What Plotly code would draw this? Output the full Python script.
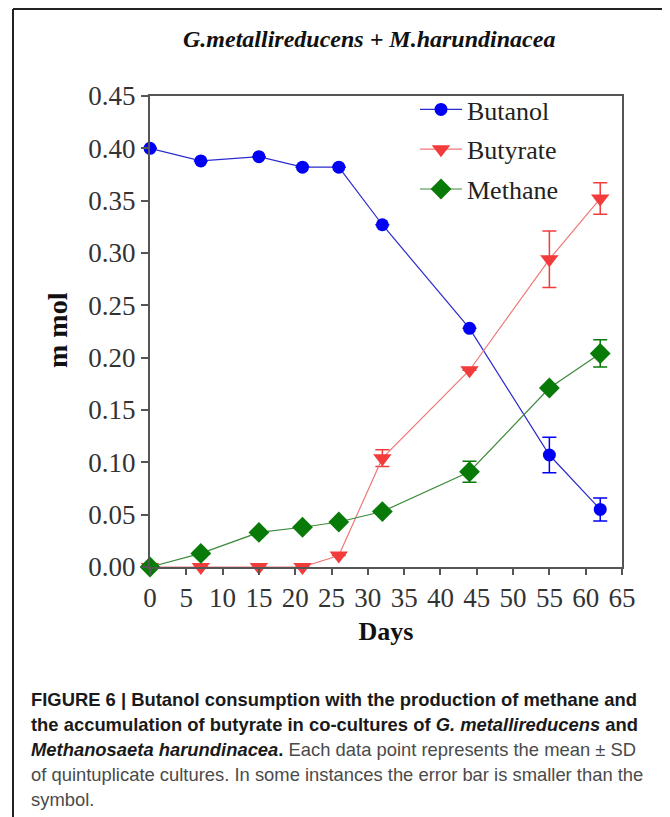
import plotly.graph_objects as go

days = [0, 7, 15, 21, 26, 32, 44, 55, 62]
butanol = [0.400, 0.388, 0.392, 0.382, 0.382, 0.327, 0.228, 0.107, 0.055]
butanol_sd = [0, 0, 0, 0, 0, 0, 0, 0.017, 0.011]
butyrate = [0.000, 0.000, 0.000, 0.000, 0.011, 0.104, 0.188, 0.294, 0.352]
butyrate_sd = [0, 0, 0, 0, 0, 0.008, 0, 0.027, 0.015]
methane = [0.000, 0.013, 0.033, 0.038, 0.043, 0.053, 0.091, 0.171, 0.204]
methane_sd = [0, 0, 0, 0, 0, 0, 0.010, 0, 0.013]

x_ticks = list(range(0, 70, 5))
y_ticks = [0.00, 0.05, 0.10, 0.15, 0.20, 0.25, 0.30, 0.35, 0.40, 0.45]

OFF = 8  # page body margin
W, H = 670 - OFF, 817 - OFF
L, R, T, B = 150, 622, 96, 567  # plot area in page pixels

def px(x):
    return (x - L) / (R - L)

def py(y):
    return (B - y) / (B - T)

fig = go.Figure()
series = [
    ("Butanol", butanol, butanol_sd, "#0000F5", "#2a2ad0", "circle", 13),
    ("Butyrate", butyrate, butyrate_sd, "#F23B3B", "#F07878", "triangle-down", 16),
    ("Methane", methane, methane_sd, "#087A08", "#3C8A3C", "diamond", 16),
]
for name, vals, sd, mc, lc, sym, sz in series:
    fig.add_trace(go.Scatter(
        x=days, y=vals, name=name, mode="lines+markers",
        line=dict(color=lc, width=1.2),
        marker=dict(color=mc, symbol=sym, size=sz, line=dict(width=0)),
        error_y=dict(type="data", array=sd, visible=True, color=mc, thickness=1.5, width=7),
        cliponaxis=False, legendgroup=name,
    ))

axis_common = dict(
    showline=True, linecolor="#555555", linewidth=2, mirror=True,
    ticks="outside", tickcolor="#555555", tickwidth=1.5,
    showgrid=False, zeroline=False,
    tickfont=dict(family="Liberation Serif", size=27, color="#333333"),
)
fig.update_xaxes(range=[0, 65], tickvals=x_ticks, ticklen=6,
                 title=dict(text="<b>Days</b>", font=dict(family="Liberation Serif", size=26, color="#111111"), standoff=9),
                 **axis_common)
fig.update_yaxes(range=[0, 0.45], tickvals=y_ticks, tickformat=".2f", ticklen=7,
                 **axis_common)

fig.update_layout(
    width=W, height=H,
    margin=dict(l=L - OFF, r=(670 - OFF) - (R - OFF), t=T - OFF, b=H - (B - OFF), autoexpand=False),
    paper_bgcolor="white", plot_bgcolor="white",
    showlegend=True,
    legend=dict(x=px(415), y=1.0 + 10 / (B - T), xanchor="left", yanchor="top",
                font=dict(family="Liberation Serif", size=26, color="#222222"),
                bgcolor="rgba(0,0,0,0)", traceorder="grouped", tracegroupgap=3, itemwidth=42),
)

# y-axis title
fig.add_annotation(text="<b>m mol</b>", textangle=-90,
                   xref="paper", yref="paper", x=px(57), y=py(330),
                   showarrow=False, font=dict(family="Liberation Serif", size=28, color="#111111"),
                   xanchor="center", yanchor="middle")

# title
fig.add_annotation(text="<b><i>G.metallireducens + M.harundinacea</i></b>",
                   xref="paper", yref="paper", x=px(369), y=py(39),
                   showarrow=False, font=dict(family="Liberation Serif", size=24, color="#111111"),
                   xanchor="center", yanchor="middle")

# caption
B1 = "<span style='color:#1a1a1a'>"
cap_lines = [
    B1 + "<b>FIGURE 6 | Butanol consumption with the production of methane and</b></span>",
    B1 + "<b>the accumulation of butyrate in co-cultures of <i>G. metallireducens</i> and</b></span>",
    B1 + "<b><i>Methanosaeta harundinacea</i>.</b></span> Each data point represents the mean ± SD",
    "of quintuplicate cultures. In some instances the error bar is smaller than the",
    "symbol.",
]
cap_y = [699, 724, 749, 774, 799]
for t, yy in zip(cap_lines, cap_y):
    fig.add_annotation(text=t, xref="paper", yref="paper", x=px(29), y=py(yy),
                       showarrow=False, xanchor="left", yanchor="middle",
                       font=dict(family="Liberation Sans", size=18.4, color="#4a4a4a"))

# frame lines
fig.add_shape(type="line", xref="paper", yref="paper", x0=px(13), x1=px(13), y0=py(9), y1=py(830),
              line=dict(color="#222222", width=2))
fig.add_shape(type="line", xref="paper", yref="paper", x0=px(13), x1=px(680), y0=py(9), y1=py(9),
              line=dict(color="#222222", width=2))

fig.write_html("out.html")
